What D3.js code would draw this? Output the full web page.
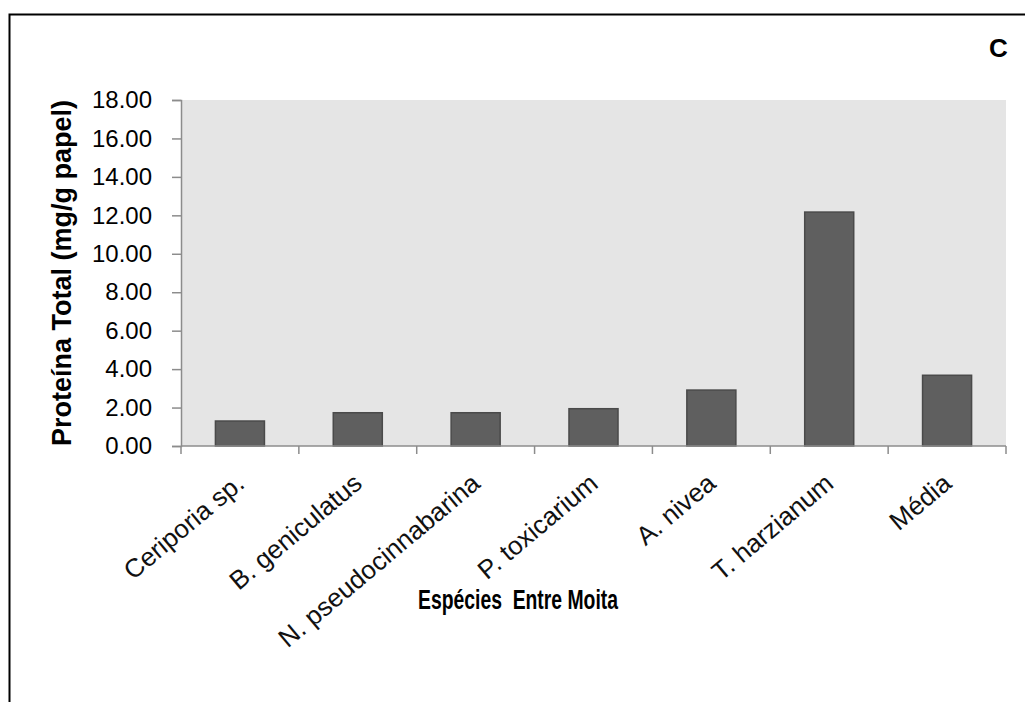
<!DOCTYPE html>
<html>
<head>
<meta charset="utf-8">
<script src="https://cdn.jsdelivr.net/npm/d3@7"></script>
<style>
  html, body { margin: 0; padding: 0; background: #fff; }
  svg { display: block; }
  text { font-family: "Liberation Sans", Arial, sans-serif; }
</style>
</head>
<body>
<div id="chart"></div>
<script>
// Total protein per fungal species (mg/g paper)
const categories = ["Ceriporia sp.", "B. geniculatus", "N. pseudocinnabarina",
                    "P. toxicarium", "A. nivea", "T. harzianum", "Média"];
const proteinValues = [1.30, 1.73, 1.73, 1.94, 2.91, 12.17, 3.68];
const yTicks = [0, 2, 4, 6, 8, 10, 12, 14, 16, 18];
const yTitle = "Proteína Total (mg/g papel)";
const xTitle = "Espécies  Entre Moita";
const panelLetter = "C";

const W = 1025, H = 702;
const plot = { left: 181, right: 1006, top: 100, bottom: 446 };

const svg = d3.select("#chart").append("svg")
  .attr("width", W).attr("height", H);

// outer frame
svg.append("rect")
  .attr("x", 9.5).attr("y", 14.5)
  .attr("width", W + 20).attr("height", H + 20)
  .attr("fill", "#fff").attr("stroke", "#000").attr("stroke-width", 2);

const x = d3.scaleBand()
  .domain(categories)
  .range([plot.left, plot.right])
  .paddingInner(0.584)
  .paddingOuter(0.292);

const y = d3.scaleLinear()
  .domain([0, 18])
  .range([plot.bottom, plot.top]);

// plot area background
svg.append("rect")
  .attr("x", plot.left).attr("y", plot.top)
  .attr("width", plot.right - plot.left)
  .attr("height", plot.bottom - plot.top)
  .attr("fill", "#e5e5e5");

// bars
svg.append("g").selectAll("rect")
  .data(categories.map((c, i) => ({ c, v: proteinValues[i] })))
  .join("rect")
  .attr("x", d => x(d.c))
  .attr("y", d => y(d.v))
  .attr("width", x.bandwidth())
  .attr("height", d => y(0) - y(d.v))
  .attr("fill", "#5f5f5f")
  .attr("stroke", "#4a4a4a")
  .attr("stroke-width", 1.5);

// y axis
const yAxis = d3.axisLeft(y)
  .tickValues(yTicks)
  .tickFormat(d3.format(".2f"))
  .tickSize(9)
  .tickPadding(20);
const gy = svg.append("g")
  .attr("transform", `translate(${plot.left},0)`)
  .call(yAxis);
gy.select(".domain").attr("stroke", "#8c8c8c").attr("stroke-width", 1.5);
gy.selectAll(".tick line").attr("stroke", "#8c8c8c").attr("stroke-width", 1.5);
gy.selectAll(".tick text")
  .attr("font-family", "Liberation Sans, Arial, sans-serif")
  .attr("font-size", 24)
  .attr("fill", "#000");

// x axis line with ticks at category boundaries
const step = x.step();
const boundaries = categories.map(c => x(c) - x.paddingInner() * step / 2)
  .concat([plot.right]);
const gx = svg.append("g");
gx.append("line")
  .attr("x1", plot.left).attr("x2", plot.right)
  .attr("y1", plot.bottom).attr("y2", plot.bottom)
  .attr("stroke", "#8c8c8c").attr("stroke-width", 1.5);
gx.selectAll("line.tk")
  .data(boundaries)
  .join("line")
  .attr("class", "tk")
  .attr("x1", d => d).attr("x2", d => d)
  .attr("y1", plot.bottom).attr("y2", plot.bottom + 8)
  .attr("stroke", "#8c8c8c").attr("stroke-width", 1.5);

// rotated category labels
gx.selectAll("text")
  .data(categories)
  .join("text")
  .attr("transform", c => `translate(${x(c) + x.bandwidth() / 2 + 6},486) rotate(-40)`)
  .attr("text-anchor", "end")
  .attr("font-size", 26)
  .attr("fill", "#111")
  .text(c => c);

// axis titles
svg.append("text")
  .attr("transform", `translate(71,${(plot.top + plot.bottom) / 2}) rotate(-90)`)
  .attr("text-anchor", "middle")
  .attr("font-weight", "bold")
  .attr("font-size", 27)
  .attr("fill", "#000")
  .text(yTitle);

svg.append("text")
  .attr("x", 518).attr("y", 609)
  .attr("text-anchor", "middle")
  .attr("font-weight", "bold")
  .attr("font-size", 27)
  .attr("textLength", 200)
  .attr("lengthAdjust", "spacingAndGlyphs")
  .attr("fill", "#000")
  .style("white-space", "pre")
  .text(xTitle);

// panel letter
svg.append("text")
  .attr("x", 989).attr("y", 57)
  .attr("font-weight", "bold")
  .attr("font-size", 26)
  .attr("fill", "#000")
  .text(panelLetter);
</script>
</body>
</html>
